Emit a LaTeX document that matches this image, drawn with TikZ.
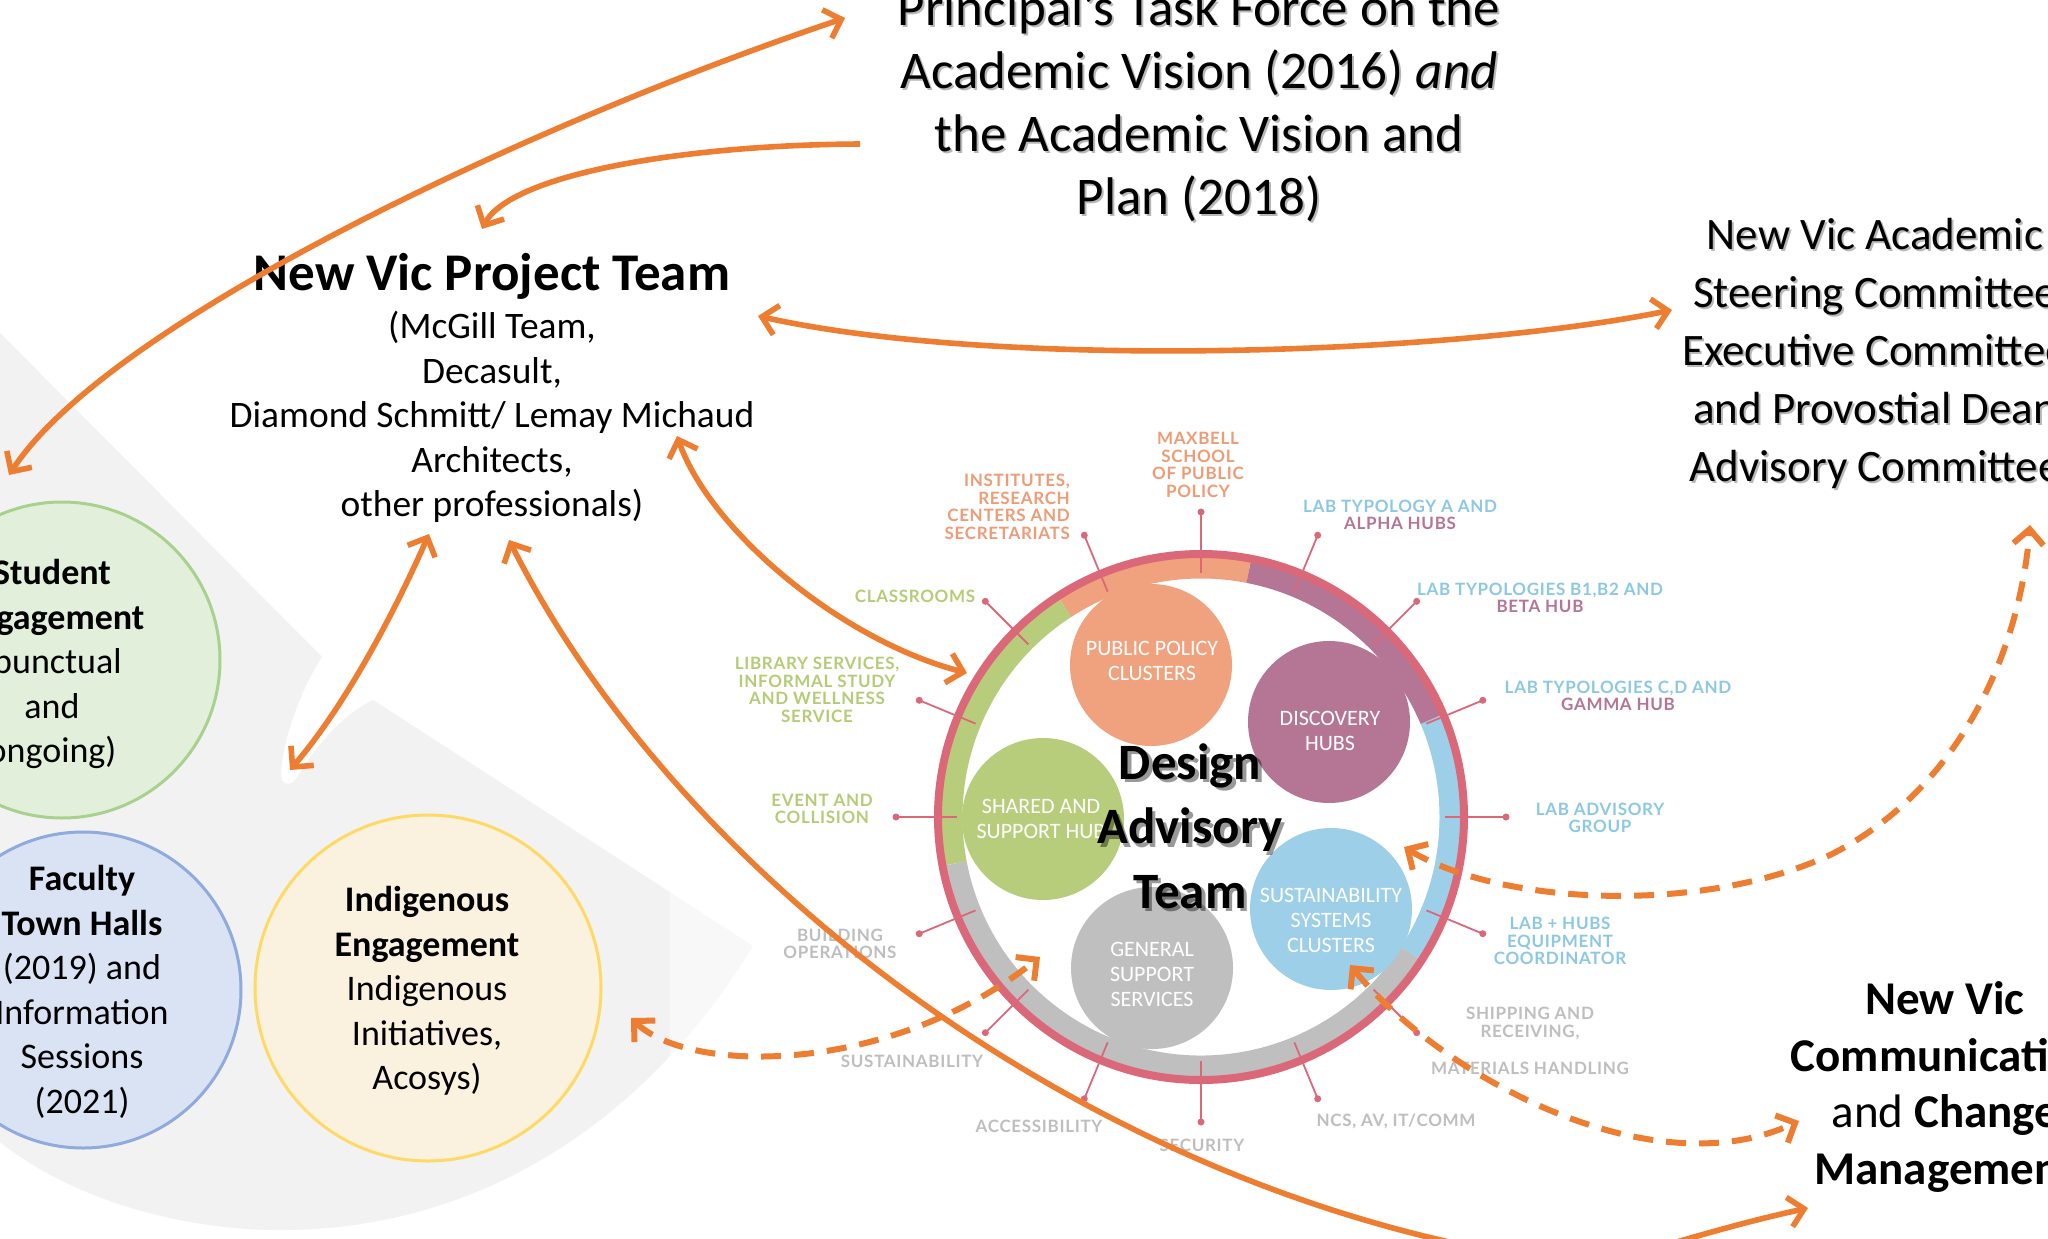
\documentclass[tikz,border=0pt]{standalone}
\usepackage{fontspec}
\setmainfont{Carlito}
\newfontfamily\labfont[LetterSpace=4]{Lato}
\usetikzlibrary{arrows.meta}
\definecolor{orng}{RGB}{237,125,49}
\definecolor{ringpink}{RGB}{219,104,121}
\definecolor{salmon}{RGB}{240,162,126}
\definecolor{mauve}{RGB}{181,117,149}
\definecolor{ltblue}{RGB}{157,207,232}
\definecolor{lgreen}{RGB}{184,205,123}
\definecolor{mgrey}{RGB}{191,191,191}
\definecolor{labblue}{RGB}{140,200,228}
\definecolor{labgreen}{RGB}{181,204,118}
\definecolor{labsalmon}{RGB}{238,155,118}
\definecolor{labmauve}{RGB}{181,117,149}
\definecolor{labgrey}{RGB}{190,190,190}
\definecolor{bggrey}{RGB}{242,242,242}
\definecolor{bggreyb}{RGB}{248,248,248}
\definecolor{stufill}{RGB}{226,239,218}
\definecolor{stuline}{RGB}{169,209,142}
\definecolor{facfill}{RGB}{218,227,243}
\definecolor{facline}{RGB}{143,170,220}
\definecolor{indfill}{RGB}{250,242,222}
\definecolor{indline}{RGB}{255,217,102}
\newcommand{\fanpath}{(0,333) -- (322,657) .. controls (300,690) and (283,740) .. (281,772) .. controls (280,786) and (291,788) .. (298,776) .. controls (318,742) and (345,714) .. (373,700) -- (753,946) .. controls (640,1130) and (470,1232) .. (274,1230) .. controls (160,1228) and (60,1190) .. (0,1142) -- cycle}
\begin{document}
\begin{tikzpicture}[x=1pt,y=-1pt,
  >={Straight Barb[length=15pt,width=30pt]},
  conn/.style={draw=orng, line width=5.6pt},
  dconn/.style={draw=orng, line width=6pt, dash pattern=on 20pt off 13pt},
  lbl/.style={font=\labfont\bfseries\fontsize{17}{17.6}\selectfont, align=center, inner sep=0pt},
  circ/.style={circle, minimum size=162pt, inner sep=0pt},
  circt/.style={text=white, align=center, inner sep=0pt, font=\fontsize{22}{25}\selectfont},
  engc/.style={circle, line width=3pt, inner sep=0pt},
  engt/.style={align=center, inner sep=0pt, font=\fontsize{36}{44.5}\selectfont},
  bigt/.style={align=center, inner sep=0pt},
  shad/.style={text=black, opacity=0.28}
]
\useasboundingbox (0,0) rectangle (2048,1239);
\fill[white] (0,0) rectangle (2048,1239);
% background fan
\fill[bggreyb] \fanpath;
\begin{scope}
  \clip (0,0) rectangle (670,1239);
  \fill[bggrey] \fanpath;
\end{scope}
% engagement circles
\node[engc, draw=stuline, fill=stufill, minimum size=316pt] (stu) at (62,660) {};
\node[engt] (stutxt) at (52,664) {\textbf{Student}\\\textbf{Engagement}\\(punctual\\and\\ongoing)};
\node[engc, draw=facline, fill=facfill, minimum size=316pt] (fac) at (83,990) {};
\node[engt] (factxt) at (82,992) {\textbf{Faculty}\\\textbf{Town Halls}\\(2019) and\\Information\\Sessions\\(2021)};
\node[engc, draw=indline, fill=indfill, minimum size=346pt] (ind) at (428,988) {};
\node[engt] (indtxt) at (427,991) {\textbf{Indigenous}\\\textbf{Engagement}\\Indigenous\\Initiatives,\\Acosys)};
% design advisory ring
\node[circle, minimum size=534pt, inner sep=0pt] (dat) at (1201,817) {};
\foreach \c/\a/\b in {salmon/79/123, lgreen/123/190.7, mgrey/190.7/327, ltblue/327/383, mauve/23/79}
  \draw[color=\c, line width=21pt] (dat.center) ++(\a:249pt) arc[start angle=\a, end angle=\b, radius=249pt];
\draw[ringpink, line width=8pt] (dat.center) circle[radius=263pt];
\foreach \a in {0,22.5,...,337.5} {
  \draw[ringpink, line width=1.8pt] (dat.center) ++(\a:244pt) -- ++(\a:61pt) coordinate (sp);
  \fill[ringpink] (sp) circle[radius=3.5pt];
}
\node[circ, fill=salmon] (pp) at (1151,665) {};
\node[circt] (pptxt) at (1152,661) {PUBLIC POLICY\\CLUSTERS};
\node[circ, fill=mauve] (dh) at (1329,722) {};
\node[circt] (dhtxt) at (1330,731) {DISCOVERY\\HUBS};
\node[circ, fill=lgreen] (sh) at (1043,819) {};
\node[circt] (shtxt) at (1041,819) {SHARED AND\\SUPPORT HUB};
\node[circ, fill=ltblue] (ss) at (1331,909) {};
\node[circt] (sstxt) at (1331,920) {SUSTAINABILITY\\SYSTEMS\\CLUSTERS};
\node[circ, fill=mgrey] (gs) at (1152,968) {};
\node[circt] (gstxt) at (1152,974) {GENERAL\\SUPPORT\\SERVICES};
% spoke labels
\node[lbl, text=labsalmon] (l-max) at (1198,465) {MAXBELL\\SCHOOL\\OF PUBLIC\\POLICY};
\node[lbl, text=labsalmon, align=right, anchor=east] (l-ins) at (1070,507) {INSTITUTES,\\RESEARCH\\CENTERS AND\\SECRETARIATS};
\node[lbl, text=labblue] (l-laba) at (1400,515) {LAB TYPOLOGY A AND\\\textcolor{labmauve}{ALPHA HUBS}};
\node[lbl, text=labblue] (l-labb) at (1540,598) {LAB TYPOLOGIES B1,B2 AND\\\textcolor{labmauve}{BETA HUB}};
\node[lbl, text=labblue] (l-labc) at (1618,696) {LAB TYPOLOGIES C,D AND\\\textcolor{labmauve}{GAMMA HUB}};
\node[lbl, text=labblue] (l-adv) at (1600,818) {LAB ADVISORY\\GROUP};
\node[lbl, text=labblue] (l-equ) at (1560,941) {LAB + HUBS\\EQUIPMENT\\COORDINATOR};
\node[lbl, text=labgrey] (l-shp) at (1530,1041) {SHIPPING AND\\RECEIVING,\\[20pt]MATERIALS HANDLING};
\node[lbl, text=labgrey] (l-ncs) at (1396,1121) {NCS, AV, IT/COMM};
\node[lbl, text=labgrey] (l-sec) at (1202,1145) {SECURITY};
\node[lbl, text=labgrey] (l-acc) at (1039,1126) {ACCESSIBILITY};
\node[lbl, text=labgrey] (l-sus) at (912,1061) {SUSTAINABILITY};
\node[lbl, text=labgrey] (l-bld) at (840,944) {BUILDING\\OPERATIONS};
\node[lbl, text=labgreen] (l-evt) at (822,809) {EVENT AND\\COLLISION};
\node[lbl, text=labgreen] (l-lib) at (817,690) {LIBRARY SERVICES,\\INFORMAL STUDY\\AND WELLNESS\\SERVICE};
\node[lbl, text=labgreen] (l-cls) at (915,596) {CLASSROOMS};
% design advisory team title
\node[bigt, text=black, opacity=0.4, font=\bfseries\fontsize{51}{64.5}\selectfont] (datsh) at (1193.5,829.5) {Design\\Advisory\\Team};
\node[bigt, font=\bfseries\fontsize{51}{64.5}\selectfont] (datxt) at (1190,826) {Design\\Advisory\\Team};
% big texts
\node[bigt, shad, font=\fontsize{53}{62.7}\selectfont] (ptfsh) at (1201,107) {Principal’s Task Force on the\\Academic Vision (2016) \textit{and}\\the Academic Vision and\\Plan (2018)};
\node[bigt, font=\fontsize{53}{62.7}\selectfont] (ptf) at (1199,105) {Principal’s Task Force on the\\Academic Vision (2016) \textit{and}\\the Academic Vision and\\Plan (2018)};
\node[bigt, font=\bfseries\fontsize{53}{60}\selectfont, anchor=base] (nvpt) at (492,290) {New Vic Project Team};
\node[bigt, font=\fontsize{37.4}{44.6}\selectfont] (nvptsub) at (492,417) {(McGill Team,\\Decasult,\\Diamond Schmitt/ Lemay Michaud\\Architects,\\other professionals)};
\node[bigt, shad, font=\fontsize{45}{58}\selectfont] (nvacsh) at (1877,355) {New Vic Academic\\Steering Committee\\Executive Committee\\and Provostial Dean\\Advisory Committee};
\node[bigt, font=\fontsize{45}{58}\selectfont] (nvac) at (1875,353) {New Vic Academic\\Steering Committee\\Executive Committee\\and Provostial Dean\\Advisory Committee};
\node[bigt, font=\fontsize{47}{56.5}\selectfont] (nvcm) at (1945,1087) {\textbf{New Vic}\\\textbf{Communication}\\and \textbf{Change}\\\textbf{Management}};
% connector end points
\coordinate (ptf-w) at (845,18);
\coordinate (stu-n) at (9,475);
\coordinate (ptf-l) at (860,144);
\coordinate (nvpt-n) at (482,229);
\coordinate (nvpt-e) at (758,316);
\coordinate (nvac-w) at (1672,310);
\coordinate (nvpt-se) at (677,436);
\coordinate (dat-nw) at (967,673);
\coordinate (nvpt-s) at (429,534);
\coordinate (fan-tip) at (290,770);
\coordinate (nvpt-ss) at (509,540);
\coordinate (nvcm-sw) at (1808,1208);
\coordinate (ind-e) at (631,1018);
\coordinate (dat-sw) at (1040,957);
\coordinate (dat-e) at (1404,847);
\coordinate (nvac-s) at (2030,525);
\coordinate (dat-se) at (1350,965);
\coordinate (nvcm-w) at (1799,1121);
% connectors
\draw[conn,<->] (ptf-w) .. controls (540,120) and (110,320) .. (stu-n);
\draw[conn,->] (ptf-l) .. controls (680,145) and (510,175) .. (nvpt-n);
\draw[conn,<->] (nvpt-e) .. controls (1000,370) and (1450,355) .. (nvac-w);
\draw[conn,<->] (nvpt-se) .. controls (710,530) and (840,640) .. (dat-nw);
\draw[conn,<->] (nvpt-s) .. controls (400,600) and (350,700) .. (fan-tip);
\draw[conn,<->] (nvpt-ss) .. controls (680,880) and (1100,1200) .. (1560,1262) .. controls (1610,1269) and (1680,1236) .. (nvcm-sw);
\draw[dconn,<->] (ind-e) .. controls (690,1075) and (890,1075) .. (dat-sw);
\draw[dconn,<->] (dat-e) .. controls (1500,905) and (1700,915) .. (1830,855) .. controls (1960,790) and (2020,650) .. (nvac-s);
\draw[dconn,<->] (dat-se) .. controls (1440,1075) and (1650,1190) .. (nvcm-w);
\end{tikzpicture}
\end{document}
